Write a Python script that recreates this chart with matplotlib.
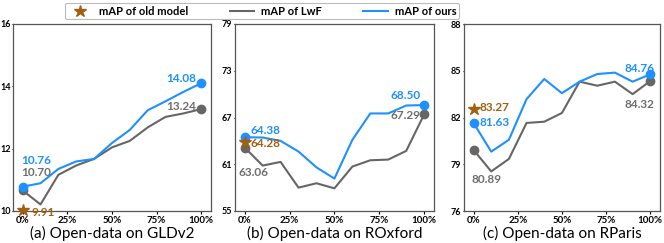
import matplotlib
matplotlib.use("Agg")
import matplotlib.pyplot as plt
from matplotlib.lines import Line2D

plt.rcParams['font.family'] = ['Lato', 'DejaVu Sans']

x_pct = [0, 10, 20, 30, 40, 50, 60, 70, 80, 90, 100]
xtick_vals = [0, 25, 50, 75, 100]
xtick_labels = ['0%', '25%', '50%', '75%', '100%']

# (a) GLDv2
gld_ours = [10.78, 10.89, 11.35, 11.59, 11.67, 12.18, 12.60, 13.23, 13.52, 13.82, 14.10]
gld_lwf = [10.66, 10.21, 11.16, 11.46, 11.67, 12.04, 12.25, 12.68, 13.02, 13.13, 13.27]
gld_old = 10.02
gld_labels = {'ours0': '10.76', 'lwf0': '10.70', 'old': '9.91', 'ours100': '14.08', 'lwf100': '13.24'}
gld_yticks = [10, 12, 14, 16]

# (b) ROxford
rox_ours = [64.47, 64.43, 64.0, 62.63, 60.6, 59.16, 64.13, 67.52, 67.52, 68.54, 68.59]
rox_lwf = [63.14, 60.83, 61.3, 58.0, 58.56, 57.91, 60.7, 61.51, 61.6, 62.71, 67.39]
rox_old = 63.9
rox_labels = {'ours0': '64.38', 'lwf0': '63.06', 'old': '64.28', 'ours100': '68.50', 'lwf100': '67.29'}
rox_yticks = [55, 61, 67, 73, 79]

# (c) RParis
rpa_ours = [81.65, 79.81, 80.57, 83.18, 84.47, 83.56, 84.3, 84.79, 84.88, 84.3, 84.77]
rpa_lwf = [79.92, 78.54, 79.34, 81.65, 81.73, 82.29, 84.3, 84.04, 84.3, 83.5, 84.34]
rpa_old = 82.53
rpa_labels = {'ours0': '81.63', 'lwf0': '80.89', 'old': '83.27', 'ours100': '84.76', 'lwf100': '84.32'}
rpa_yticks = [76, 79, 82, 85, 88]

titles = ['(a) Open-data on GLDv2', '(b) Open-data on ROxford', '(c) Open-data on RParis']

BLUE = '#1e90ff'
GRAY = '#666666'
GRAYT = '#6e6e6e'
BROWN = '#a0600f'

fig = plt.figure(figsize=(6.64, 2.43), dpi=100)
W, H = 664, 243
boxes = [(13, 211, 24, 211), (235, 434, 24, 211), (464, 660, 24, 211)]

# annotation offsets (pixels) : (dx, dy, ha, va)
ann = [
    {'ours0': (14, 26, 'center', 'center'), 'lwf0': (14, 18, 'center', 'center'),
     'old': (9, -2, 'left', 'center'), 'ours100': (-5, 5, 'right', 'center'),
     'lwf100': (-5, 3, 'right', 'center')},
    {'ours0': (6, 7, 'left', 'center'), 'lwf0': (9, -25, 'center', 'center'),
     'old': (6, -2, 'left', 'center'), 'ours100': (-4, 10, 'right', 'center'),
     'lwf100': (-4, -1, 'right', 'center')},
    {'ours0': (6, 0, 'left', 'center'), 'lwf0': (13, -30, 'center', 'center'),
     'old': (6, 2, 'left', 'center'), 'ours100': (-11, 6, 'center', 'center'),
     'lwf100': (-11, -23, 'center', 'center')},
]

data = [(gld_ours, gld_lwf, gld_old, gld_labels, gld_yticks),
        (rox_ours, rox_lwf, rox_old, rox_labels, rox_yticks),
        (rpa_ours, rpa_lwf, rpa_old, rpa_labels, rpa_yticks)]

for i, ((ours, lwf, old, labels, yt), (x0, x1, y0, y1)) in enumerate(zip(data, boxes)):
    ax = fig.add_axes([x0 / W, 1 - y1 / H, (x1 - x0) / W, (y1 - y0) / H])
    ax.plot(x_pct, lwf, color=GRAY, lw=1.5, zorder=2)
    ax.plot(x_pct, ours, color=BLUE, lw=1.5, zorder=3)
    ax.plot([x_pct[0], x_pct[-1]], [lwf[0], lwf[-1]], 'o', color=GRAY, ms=6, zorder=4, clip_on=False)
    ax.plot([x_pct[0], x_pct[-1]], [ours[0], ours[-1]], 'o', color=BLUE, ms=6, zorder=5, clip_on=False)
    ax.plot([x_pct[0]], [old], '*', color=BROWN, ms=9, zorder=6, clip_on=False)
    ax.set_xlim(-5.4, 105.5)
    ax.set_ylim(yt[0], yt[-1])
    ax.set_yticks(yt)
    ax.set_xticks(xtick_vals)
    ax.set_xticklabels(xtick_labels)
    for lab in ax.get_xticklabels():
        lab.set_fontweight('bold')
        lab.set_fontsize(7)
    for lab in ax.get_yticklabels():
        lab.set_fontweight('bold')
        lab.set_fontsize(6.5)
    ax.tick_params(axis='y', length=1, pad=0.8, width=0.8)
    ax.tick_params(axis='x', length=2, pad=1.5, width=0.8)
    for s in ax.spines.values():
        s.set_color('#555555')
        s.set_linewidth(0.9)
    ax.set_xlabel(titles[i], fontsize=11, labelpad=1)
    a = ann[i]
    pts = {'ours0': (x_pct[0], ours[0], BLUE), 'lwf0': (x_pct[0], lwf[0], GRAYT),
           'old': (x_pct[0], old, BROWN), 'ours100': (x_pct[-1], ours[-1], BLUE),
           'lwf100': (x_pct[-1], lwf[-1], GRAYT)}
    for k, (px, py, c) in pts.items():
        dx, dy, ha, va = a[k]
        ax.annotate(labels[k], (px, py), xytext=(dx, dy), textcoords='offset pixels',
                    ha=ha, va=va, color=c, fontsize=8.5, fontweight='bold', zorder=7,
                    annotation_clip=False)

handles = [Line2D([], [], marker='*', color=BROWN, ls='none', ms=9),
           Line2D([], [], color=GRAY, lw=1.5),
           Line2D([], [], color=BLUE, lw=1.5)]
names = ['mAP of old model', 'mAP of LwF', 'mAP of ours']
leg = fig.legend(handles, names, loc='lower left', ncol=3, mode='expand',
                 bbox_to_anchor=(65 / W, 1 - 19.5 / H, 394 / W, 19 / H),
                 prop={'weight': 'bold', 'size': 8}, frameon=True, fancybox=True,
                 handlelength=2.2, handletextpad=0.6, borderpad=0.25, borderaxespad=0)
leg.get_frame().set_edgecolor('#bbbbbb')
leg.get_frame().set_linewidth(0.8)
leg.get_frame().set_alpha(1)

fig.savefig('out.png', dpi=100)
